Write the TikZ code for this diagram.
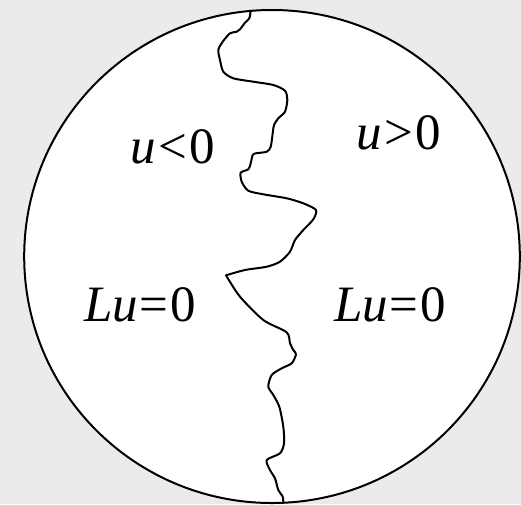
\documentclass[tikz,border=0pt]{standalone}
\usepackage{fontspec}
\setmainfont{Liberation Serif}
\begin{document}
\begin{tikzpicture}[x=1pt,y=-1pt,
  lbl/.style={anchor=base west,inner sep=0pt,font=\fontsize{51}{53}\selectfont},
  edge/.style={line width=2pt,line join=round,line cap=round}]
\fill[fill={rgb,255:red,235;green,235;blue,235}] (0,0) rectangle (521,504);
\useasboundingbox (0,0) rectangle (521,504);
\draw[edge,fill=white] (272,256.5) ellipse [x radius=247.8,y radius=246.5];
\draw[edge] plot[smooth,tension=0.45] coordinates {
 (250.7,10.5) (249.3,18.3) (245,22.7) (240,29.3) (236.7,31.7) (230,33.3)
 (222.7,41.7) (218.3,50) (220,60) (223.3,71.7) (233.3,78.3) (253.3,81.7)
 (273.3,85) (285,90.7) (287.3,100) (285,111.7) (278.3,118.3) (274,125)
 (272.7,133.3) (270.7,146.7) (266.7,151.7) (256,153.3) (252.7,155)
 (250.7,163.3) (248.3,169.3) (240.7,172.7) (241.7,181.7) (248.3,190.7)
 (263.3,194.3) (286.7,198.3) (303.3,203.3) (316,210) (313.3,219.3)
 (303.3,230) (295,240) (290,251.7) (280,261.7) (266.7,266.7) (245,270)
 (226,275.3)}
 -- plot[smooth,tension=0.45] coordinates {
 (226,275.3) (240,296.7) (263.3,320) (286.7,332.3) (290,343.3) (293.3,350)
 (296,354.3) (291.7,363.3) (281.7,368.3) (271.7,375) (268.3,386.7)
 (273.3,395) (279.3,406.7) (283.3,426.7) (284,443.3) (280,453.3)
 (266.7,460) (270,470) (275,478.3) (278.3,490) (282.7,496.7) (283.3,503)};
\node[lbl] (a) at (130,163.3) {\textit{u}\hspace{0.06em}<\hspace{0.03em}0};
\node[lbl] (b) at (356,149.5) {\textit{u}\hspace{0.06em}>\hspace{0.03em}0};
\node[lbl] (c) at (84,321.7) {\textit{Lu}\hspace{0.03em}=\hspace{0.05em}0};
\node[lbl] (d) at (334,321.7) {\textit{Lu}\hspace{0.03em}=\hspace{0.05em}0};
\end{tikzpicture}
\end{document}
